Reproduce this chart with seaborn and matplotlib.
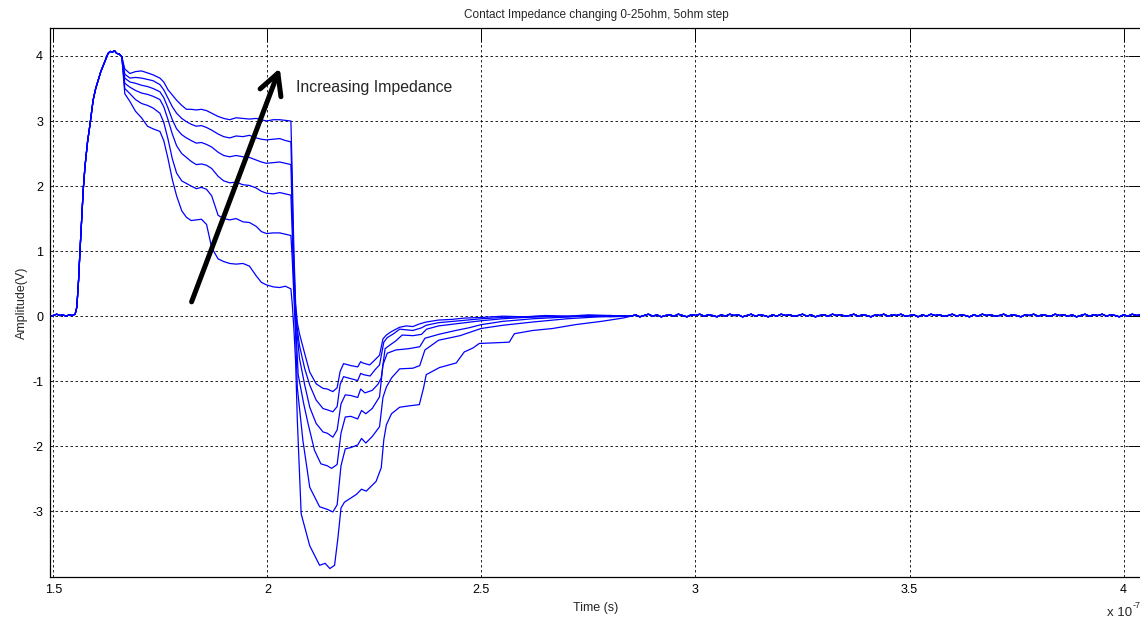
import matplotlib
matplotlib.use("Agg")
import matplotlib.pyplot as plt
import pandas as pd
import seaborn as sns

# Time in units of 1e-7 s, amplitude in volts.
# Leading edge shared by every impedance setting.
rise_t = [1.492, 1.500, 1.508, 1.515, 1.522, 1.530, 1.537, 1.544, 1.551, 1.555,
          1.559, 1.562, 1.566, 1.570, 1.574, 1.580, 1.586, 1.593, 1.599, 1.605,
          1.611, 1.617, 1.623, 1.628, 1.633, 1.638, 1.643, 1.648, 1.654, 1.660]
rise_v = [0.00, 0.01, 0.03, 0.01, 0.02, 0.00, 0.02, 0.01, 0.03, 0.14,
          0.55, 0.96, 1.45, 1.95, 2.30, 2.68, 2.96, 3.32, 3.50, 3.63,
          3.76, 3.86, 3.96, 4.04, 4.07, 4.06, 4.08, 4.04, 4.03, 3.99]

# Plateau region (common sample times), one series per impedance step
plateau_t = [1.667, 1.679, 1.692, 1.706, 1.720, 1.733, 1.749, 1.758, 1.768, 1.778,
             1.788, 1.800, 1.811, 1.822, 1.834, 1.846, 1.858, 1.870, 1.885, 1.898,
             1.912, 1.927, 1.943, 1.958, 1.974, 1.986, 1.998, 2.014, 2.029, 2.042, 2.055]
plateau_25 = [3.80, 3.73, 3.76, 3.77, 3.74, 3.71, 3.66, 3.60, 3.48, 3.40,
              3.32, 3.24, 3.18, 3.18, 3.17, 3.18, 3.16, 3.12, 3.07, 3.04,
              3.02, 3.05, 3.04, 3.03, 3.04, 3.02, 3.00, 3.02, 3.02, 3.01, 3.00]
plateau_20 = [3.72, 3.66, 3.67, 3.66, 3.64, 3.62, 3.56, 3.48, 3.35, 3.22,
              3.12, 3.04, 2.99, 2.95, 2.92, 2.93, 2.90, 2.86, 2.80, 2.76,
              2.74, 2.77, 2.76, 2.78, 2.74, 2.72, 2.71, 2.72, 2.73, 2.70, 2.68]
plateau_15 = [3.66, 3.60, 3.58, 3.55, 3.53, 3.50, 3.45, 3.36, 3.20, 3.02,
              2.88, 2.79, 2.74, 2.70, 2.66, 2.67, 2.64, 2.60, 2.52, 2.47,
              2.45, 2.47, 2.45, 2.44, 2.40, 2.37, 2.35, 2.36, 2.37, 2.35, 2.33]
plateau_10 = [3.58, 3.52, 3.47, 3.43, 3.41, 3.38, 3.33, 3.22, 3.02, 2.80,
              2.62, 2.50, 2.44, 2.38, 2.33, 2.34, 2.32, 2.27, 2.15, 2.08,
              2.05, 2.06, 2.02, 2.01, 1.97, 1.92, 1.89, 1.88, 1.90, 1.88, 1.86]
plateau_5 = [3.50, 3.42, 3.33, 3.27, 3.24, 3.20, 3.12, 2.98, 2.72, 2.42,
             2.20, 2.08, 2.04, 2.00, 1.96, 1.98, 1.95, 1.85, 1.55, 1.50,
             1.48, 1.50, 1.45, 1.44, 1.38, 1.30, 1.27, 1.28, 1.28, 1.26, 1.24]
plateau_0 = [3.42, 3.30, 3.15, 3.05, 2.92, 2.88, 2.84, 2.70, 2.42, 2.10,
             1.85, 1.62, 1.52, 1.47, 1.48, 1.49, 1.41, 1.05, 0.88, 0.84,
             0.81, 0.80, 0.81, 0.77, 0.62, 0.52, 0.48, 0.45, 0.44, 0.46, 0.42]

# Falling edge, undershoot and recovery: (time, amplitude) pairs
recovery_25 = [(2.058, 2.2), (2.062, 1.0), (2.066, 0.2), (2.070, -0.1), (2.075, -0.27),
               (2.087, -0.57), (2.099, -0.86), (2.114, -1.04), (2.130, -1.11), (2.140, -1.12),
               (2.153, -1.16), (2.163, -1.10), (2.170, -0.85), (2.178, -0.73), (2.195, -0.76),
               (2.211, -0.78), (2.218, -0.70), (2.223, -0.72), (2.239, -0.75), (2.250, -0.68),
               (2.262, -0.60), (2.270, -0.35), (2.278, -0.29), (2.289, -0.24), (2.309, -0.17),
               (2.325, -0.15), (2.340, -0.16), (2.355, -0.12), (2.371, -0.09), (2.400, -0.06),
               (2.430, -0.05), (2.460, -0.03), (2.500, -0.02), (2.550, 0.00), (2.600, -0.01),
               (2.650, 0.01), (2.700, 0.00), (2.750, 0.02), (2.800, 0.01)]
recovery_20 = [(2.058, 1.9), (2.062, 0.8), (2.066, 0.1), (2.070, -0.2), (2.075, -0.45),
               (2.087, -0.80), (2.099, -1.06), (2.114, -1.29), (2.130, -1.42), (2.140, -1.44),
               (2.153, -1.47), (2.163, -1.39), (2.170, -1.05), (2.178, -0.93), (2.195, -0.96),
               (2.211, -0.99), (2.218, -0.88), (2.225, -0.90), (2.240, -0.92), (2.252, -0.82),
               (2.262, -0.75), (2.272, -0.40), (2.280, -0.33), (2.295, -0.27), (2.309, -0.20),
               (2.325, -0.21), (2.340, -0.22), (2.360, -0.18), (2.371, -0.14), (2.400, -0.10),
               (2.450, -0.07), (2.500, -0.04), (2.550, -0.02), (2.600, -0.01), (2.650, 0.00),
               (2.700, -0.01), (2.750, 0.01), (2.800, 0.00)]
recovery_15 = [(2.058, 1.6), (2.062, 0.6), (2.066, 0.0), (2.070, -0.3), (2.075, -0.65),
               (2.087, -1.05), (2.099, -1.40), (2.114, -1.65), (2.130, -1.78), (2.140, -1.80),
               (2.153, -1.86), (2.163, -1.75), (2.172, -1.35), (2.182, -1.21), (2.195, -1.22),
               (2.211, -1.25), (2.218, -1.12), (2.228, -1.18), (2.245, -1.14), (2.258, -1.05),
               (2.266, -0.95), (2.275, -0.50), (2.285, -0.45), (2.300, -0.38), (2.315, -0.29),
               (2.340, -0.30), (2.360, -0.28), (2.372, -0.20), (2.400, -0.15), (2.450, -0.11),
               (2.500, -0.07), (2.550, -0.04), (2.600, -0.02), (2.650, -0.01), (2.700, 0.00),
               (2.750, -0.01), (2.800, 0.01)]
recovery_10 = [(2.058, 1.3), (2.062, 0.5), (2.066, -0.1), (2.072, -0.9), (2.085, -1.35),
               (2.095, -1.65), (2.110, -2.06), (2.125, -2.27), (2.140, -2.30), (2.150, -2.34),
               (2.163, -2.28), (2.172, -1.80), (2.182, -1.55), (2.195, -1.54), (2.211, -1.58),
               (2.220, -1.45), (2.230, -1.50), (2.245, -1.42), (2.262, -1.24), (2.270, -0.75),
               (2.280, -0.57), (2.300, -0.52), (2.330, -0.50), (2.356, -0.47), (2.368, -0.34),
               (2.400, -0.28), (2.440, -0.22), (2.470, -0.18), (2.500, -0.13), (2.550, -0.08),
               (2.620, -0.04), (2.680, -0.02), (2.740, 0.00), (2.800, -0.01)]
recovery_5 = [(2.058, 0.9), (2.062, 0.3), (2.066, -0.3), (2.070, -1.1), (2.083, -1.91),
              (2.099, -2.63), (2.122, -2.93), (2.140, -2.97), (2.153, -3.01), (2.163, -2.90),
              (2.172, -2.30), (2.182, -2.04), (2.195, -2.02), (2.211, -1.98), (2.220, -1.88),
              (2.230, -1.95), (2.245, -1.85), (2.262, -1.70), (2.270, -1.25), (2.278, -1.09),
              (2.290, -0.95), (2.309, -0.81), (2.340, -0.80), (2.356, -0.76), (2.368, -0.52),
              (2.400, -0.37), (2.450, -0.30), (2.499, -0.19), (2.550, -0.14), (2.620, -0.09),
              (2.700, -0.04), (2.750, -0.02), (2.800, 0.00)]
recovery_0 = [(2.058, 0.2), (2.062, -0.2), (2.066, -0.7), (2.070, -1.6), (2.079, -3.04),
              (2.099, -3.53), (2.122, -3.83), (2.135, -3.80), (2.146, -3.88), (2.157, -3.83),
              (2.165, -3.40), (2.172, -2.95), (2.180, -2.86), (2.208, -2.74), (2.220, -2.66),
              (2.231, -2.69), (2.254, -2.54), (2.266, -2.33), (2.272, -1.90), (2.278, -1.67),
              (2.290, -1.50), (2.309, -1.40), (2.330, -1.38), (2.355, -1.36), (2.365, -1.10),
              (2.371, -0.90), (2.402, -0.79), (2.441, -0.72), (2.460, -0.55), (2.480, -0.49),
              (2.495, -0.42), (2.530, -0.41), (2.565, -0.40), (2.577, -0.27), (2.620, -0.22),
              (2.666, -0.19), (2.720, -0.13), (2.780, -0.08), (2.830, -0.03)]

# Settled baseline with measurement noise
tail_t = [2.85, 2.86, 2.87, 2.88, 2.89, 2.90, 2.91, 2.92, 2.93, 2.94,
          2.95, 2.96, 2.97, 2.98, 2.99, 3.00, 3.01, 3.02, 3.03, 3.04,
          3.05, 3.06, 3.07, 3.08, 3.09, 3.10, 3.11, 3.12, 3.13, 3.14,
          3.15, 3.16, 3.17, 3.18, 3.19, 3.20, 3.21, 3.22, 3.23, 3.24,
          3.25, 3.26, 3.27, 3.28, 3.29, 3.30, 3.31, 3.32, 3.33, 3.34,
          3.35, 3.36, 3.37, 3.38, 3.39, 3.40, 3.41, 3.42, 3.43, 3.44,
          3.45, 3.46, 3.47, 3.48, 3.49, 3.50, 3.51, 3.52, 3.53, 3.54,
          3.55, 3.56, 3.57, 3.58, 3.59, 3.60, 3.61, 3.62, 3.63, 3.64,
          3.65, 3.66, 3.67, 3.68, 3.69, 3.70, 3.71, 3.72, 3.73, 3.74,
          3.75, 3.76, 3.77, 3.78, 3.79, 3.80, 3.81, 3.82, 3.83, 3.84,
          3.85, 3.86, 3.87, 3.88, 3.89, 3.90, 3.91, 3.92, 3.93, 3.94,
          3.95, 3.96, 3.97, 3.98, 3.99, 4.00, 4.01, 4.02, 4.03, 4.04]
tail_v = [0.00, 0.02, -0.01, 0.01, 0.03, 0.00, 0.02, -0.01, 0.01, 0.02,
          0.00, 0.03, 0.01, -0.01, 0.02, 0.01, 0.03, 0.00, 0.02, 0.01,
          -0.01, 0.02, 0.00, 0.03, 0.01, 0.02, -0.01, 0.01, 0.03, 0.00,
          0.02, 0.01, -0.01, 0.02, 0.00, 0.03, 0.01, 0.02, 0.00, 0.01,
          0.03, 0.00, 0.02, -0.01, 0.01, 0.02, 0.00, 0.03, 0.01, 0.02,
          0.00, 0.01, 0.03, 0.00, 0.02, 0.01, -0.01, 0.02, 0.01, 0.03,
          0.00, 0.02, 0.01, 0.03, 0.00, 0.01, 0.02, -0.01, 0.02, 0.00,
          0.03, 0.01, 0.02, 0.00, 0.01, 0.03, 0.00, 0.02, 0.01, -0.01,
          0.02, 0.00, 0.03, 0.01, 0.02, 0.00, 0.01, 0.03, 0.00, 0.02,
          0.01, -0.01, 0.02, 0.01, 0.03, 0.00, 0.02, 0.01, 0.00, 0.03,
          0.01, 0.02, 0.00, 0.02, -0.01, 0.01, 0.03, 0.00, 0.02, 0.01,
          0.03, 0.00, 0.02, 0.01, -0.01, 0.02, 0.00, 0.03, 0.01, 0.02]

impedance_labels = ["25 ohm", "20 ohm", "15 ohm", "10 ohm", "5 ohm", "0 ohm"]
plateaus = [plateau_25, plateau_20, plateau_15, plateau_10, plateau_5, plateau_0]
recoveries = [recovery_25, recovery_20, recovery_15, recovery_10, recovery_5, recovery_0]

frames = []
for label, plat, rec in zip(impedance_labels, plateaus, recoveries):
    t = rise_t + plateau_t + [p[0] for p in rec] + tail_t
    v = rise_v + plat + [p[1] for p in rec] + tail_v
    frames.append(pd.DataFrame({"time": t, "amplitude": v, "impedance": label}))
waveforms = pd.concat(frames, ignore_index=True)

sns.set_theme(style="white")
plt.rcParams["font.family"] = ["Liberation Sans", "DejaVu Sans"]

fig = plt.figure(figsize=(11.4, 6.22), dpi=100)
ax = fig.add_axes([50 / 1140, 45 / 622, 1092 / 1140, 549 / 622])

sns.lineplot(data=waveforms, x="time", y="amplitude", units="impedance",
             estimator=None, sort=False, color="#0000ff", linewidth=0.9,
             legend=False, ax=ax)

ax.set_xlim(1.4923, 4.043)
ax.set_ylim(-4.01, 4.43)
ax.set_xticks([1.5, 2, 2.5, 3, 3.5, 4])
ax.set_xticklabels(["1.5", "2", "2.5", "3", "3.5", "4"])
ax.set_yticks([-3, -2, -1, 0, 1, 2, 3, 4])
ax.set_yticklabels(["-3", "-2", "-1", "0", "1", "2", "3", "4"])
ax.tick_params(direction="in", length=10, width=0.7, top=True, right=True,
               labelsize=9, pad=5, colors="black")
ax.grid(True, color="black", linestyle=(0, (3, 3)), linewidth=0.6)
for sp in ax.spines.values():
    sp.set_color("black")
    sp.set_linewidth(0.9)

ax.set_title("Contact Impedance changing 0-25ohm, 5ohm step", fontsize=8.5, pad=7)
ax.set_xlabel("Time (s)", fontsize=9, labelpad=4)
ax.set_ylabel("Amplitude(V)", fontsize=9, labelpad=3)

# axis multiplier, written as base plus raised exponent
fig.text(1107 / 1140, (622 - 613) / 622, "x 10", fontsize=9.5, ha="left", va="center")
fig.text(1133 / 1140, (622 - 605) / 622, "-7", fontsize=6.5, ha="left", va="center")

ax.annotate("", xy=(2.029, 3.81), xytext=(1.823, 0.22),
            arrowprops=dict(arrowstyle="->, head_length=0.75, head_width=0.4",
                            color="black", lw=3.6, mutation_scale=20,
                            shrinkA=0, shrinkB=0))
ax.text(2.066, 3.51, "Increasing Impedance", fontsize=11.4, ha="left", va="center")

fig.savefig("out.png", dpi=100)
